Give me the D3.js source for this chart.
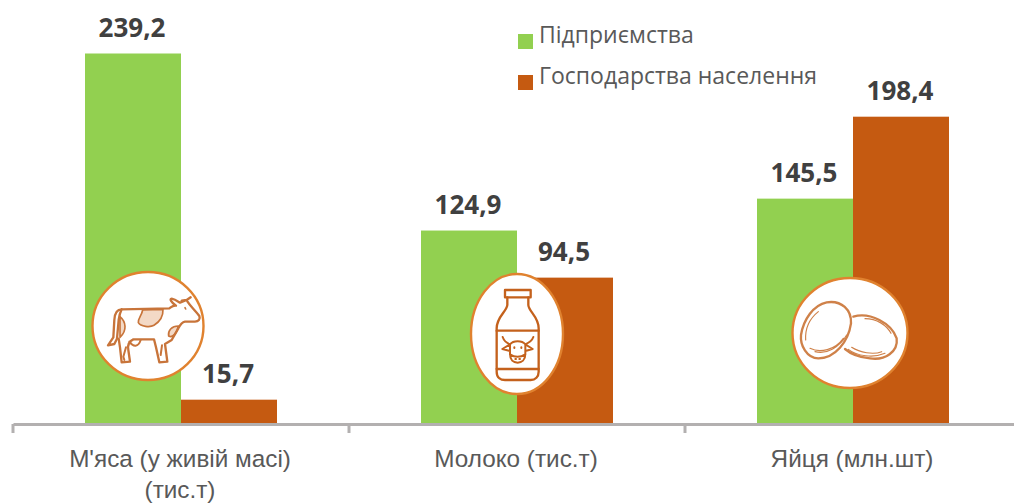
<!DOCTYPE html>
<html lang="uk">
<head>
<meta charset="utf-8">
<title>Виробництво продукції тваринництва</title>
<script src="https://cdn.jsdelivr.net/npm/d3@7"></script>
<style>
  html, body { margin: 0; padding: 0; background: #fff; overflow: hidden; }
  svg { display: block; font-family: "Open Sans", sans-serif; }
</style>
</head>
<body>
<div id="chart"></div>
<script>
// chart values
const categories = ["М'яса (у живій масі)|(тис.т)", "Молоко (тис.т)", "Яйця (млн.шт)"];
const seriesNames = ["Підприємства", "Господарства населення"];
const enterprises = [239.2, 124.9, 145.5];
const households = [15.7, 94.5, 198.4];
const seriesColors = ["#92d050", "#c55a11"];

const width = 1014, height = 504;
const baseline = 424;

const svg = d3.select("#chart")
  .append("svg")
    .attr("width", width)
    .attr("height", height);

// scales
const x0 = d3.scaleBand()
  .domain(categories)
  .range([13, 1021]);
const x1 = d3.scaleBand()
  .domain(seriesNames)
  .range([0, x0.bandwidth()])
  .paddingInner(0)
  .paddingOuter(0.75);
const y = d3.scaleLinear()
  .domain([0, 239.2])
  .range([baseline, 53.5]);
const color = d3.scaleOrdinal().domain(seriesNames).range(seriesColors);

const series = [enterprises, households];
const fmt = v => String(v).replace(".", ",");

// bars
const groups = svg.selectAll("g.cat")
  .data(categories)
  .join("g")
    .attr("class", "cat")
    .attr("transform", d => `translate(${x0(d)},0)`);

groups.each(function(cat, i) {
  const rows = seriesNames.map((name, s) => ({name, value: series[s][i]}));
  const g = d3.select(this);
  g.selectAll("rect")
    .data(rows)
    .join("rect")
      .attr("x", d => x1(d.name))
      .attr("y", d => y(d.value))
      .attr("width", x1.bandwidth())
      .attr("height", d => y(0) - y(d.value))
      .attr("fill", d => color(d.name));
  g.selectAll("text")
    .data(rows)
    .join("text")
      .attr("x", d => x1(d.name) + x1.bandwidth() / 2 - 1)
      .attr("y", d => y(d.value) - 17)
      .attr("text-anchor", "middle")
      .attr("font-size", 26)
      .attr("font-weight", 700)
      .attr("fill", "#404040")
      .text(d => fmt(d.value));
});

// x axis, ticks go on the band edges so the axis only gives line and labels
const axis = svg.append("g")
  .attr("transform", `translate(0,${baseline})`)
  .call(d3.axisBottom(x0).tickSize(0).tickFormat(""));
axis.select(".domain")
  .attr("stroke", "#b3b0b0")
  .attr("stroke-width", 3);

axis.selectAll(".edge")
  .data(categories.map(c => x0(c)).concat(x0.range()[1]))
  .join("line")
    .attr("class", "edge")
    .attr("x1", d => d).attr("x2", d => d)
    .attr("y1", 0).attr("y2", 9)
    .attr("stroke", "#b3b0b0")
    .attr("stroke-width", 3);

axis.selectAll(".tick text").remove();
axis.selectAll(".tick").each(function(d) {
  const t = d3.select(this).append("text")
    .attr("text-anchor", "middle")
    .attr("font-size", 24.3)
    .attr("fill", "#595959");
  d.split("|").forEach((line, i) => {
    t.append("tspan")
      .attr("x", -1)
      .attr("y", 43 + i * 31)
      .text(line);
  });
});

// legend
const legend = svg.selectAll("g.legend")
  .data(seriesNames)
  .join("g")
    .attr("class", "legend")
    .attr("transform", (d, i) => `translate(518,${34 + i * 41})`);
legend.append("rect")
  .attr("width", 15)
  .attr("height", 15)
  .attr("fill", d => color(d));
legend.append("text")
  .attr("x", 21)
  .attr("y", 9)
  .attr("font-size", 23)
  .attr("fill", "#595959")
  .text(d => d);

// icons on top of the bars, paths traced at 3x so they stay in crop units
function badge(cx, cy, rx, ry) {
  svg.append("ellipse")
    .attr("cx", cx).attr("cy", cy).attr("rx", rx).attr("ry", ry)
    .attr("fill", "#fff")
    .attr("stroke", "#e0822f")
    .attr("stroke-width", 2.4);
}
function icon(ox, oy, stroke, paths) {
  const g = svg.append("g")
    .attr("transform", `translate(${ox},${oy}) scale(${1 / 3})`)
    .attr("fill", "none")
    .attr("stroke", stroke)
    .attr("stroke-linejoin", "round")
    .attr("stroke-linecap", "round");
  paths.forEach(p => {
    g.append("path")
      .attr("d", p.d)
      .attr("fill", p.fill || "none")
      .attr("stroke-width", p.w || 7);
  });
}

// cow
badge(148, 326, 55.5, 54);
icon(70, 260, "#c8743a", [
  {d: "M218,150 C215,168 203,175 205,188 C212,200 240,203 252,196 C270,185 280,170 279,148 Z", fill: "#f3d9c6", w: 5},
  {d: "M150,170 C168,185 172,212 150,232 Z", fill: "#f3d9c6", w: 5},
  {d: "M325,198 C305,198 293,212 296,228 C310,236 322,215 325,198 Z", fill: "#f3d9c6", w: 5},
  {d: "M155,148 C140,148 134,160 133,180 L130,232 L114,256 L133,252 L141,236 L146,180 C148,165 150,158 155,148"},
  {d: "M155,148 L298,145 C305,140 310,135 318,137 C303,127 298,116 305,116 C315,118 325,125 330,128 L350,120 L362,112 M350,120 L335,122 M352,124 C362,140 375,150 388,168 C392,178 385,185 375,185 L345,185 C335,187 330,195 325,205 L305,240 L285,252 L292,305 L268,307 L258,262 L252,238 L190,238 C175,245 172,255 175,270 L180,305 L155,307 L150,262 L146,236"},
  {d: "M178,245 C190,262 205,262 212,240 M168,262 L160,290 L163,300 M276,256 L272,285", w: 6},
  {d: "M345,143 L347,147", w: 5}
]);

// bottle
badge(517, 334, 46, 60);
icon(460, 265, "#c4611c", [
  {d: "M135,75 L212,75 L212,97 L135,97 Z"},
  {d: "M142,97 L142,120 C140,140 110,155 110,190 L110,320 C110,338 122,345 135,345 L212,345 C226,345 236,335 236,320 L236,190 C236,155 206,140 205,120 L205,97"},
  {d: "M110,197 L236,197 M110,312 L236,312"},
  {d: "M150,238 C135,232 130,222 128,216 M196,238 C210,232 218,222 220,216 M150,238 L127,252 L150,258 M196,238 L218,252 L196,258 M150,238 C160,226 186,226 196,238 L196,268 C196,285 185,293 173,293 C160,293 150,285 150,268 Z M150,268 C165,278 180,278 196,268", w: 6},
  {d: "M163,247 L163,249 M184,247 L184,249 M166,282 L168,282 M178,282 L180,282", w: 6}
]);

// eggs
badge(850, 333, 57.5, 55);
icon(785, 270, "#cf8149", [
  {d: "M205,140 C255,125 320,160 335,205 C340,245 300,272 255,265 C225,262 195,250 180,237", w: 7},
  {d: "M240,146 C275,146 305,165 318,190 M190,238 C215,258 265,265 300,250 M200,232 C225,248 265,255 290,245", w: 3.5},
  {d: "M125,97 C170,90 200,120 198,160 C190,215 150,265 100,265 C65,265 45,225 48,195 C55,150 85,105 125,97 Z", w: 7},
  {d: "M100,125 C75,145 60,175 62,210 M75,235 C105,250 150,240 175,205 M90,245 C125,255 165,230 185,195", w: 3.5}
]);
</script>
</body>
</html>
